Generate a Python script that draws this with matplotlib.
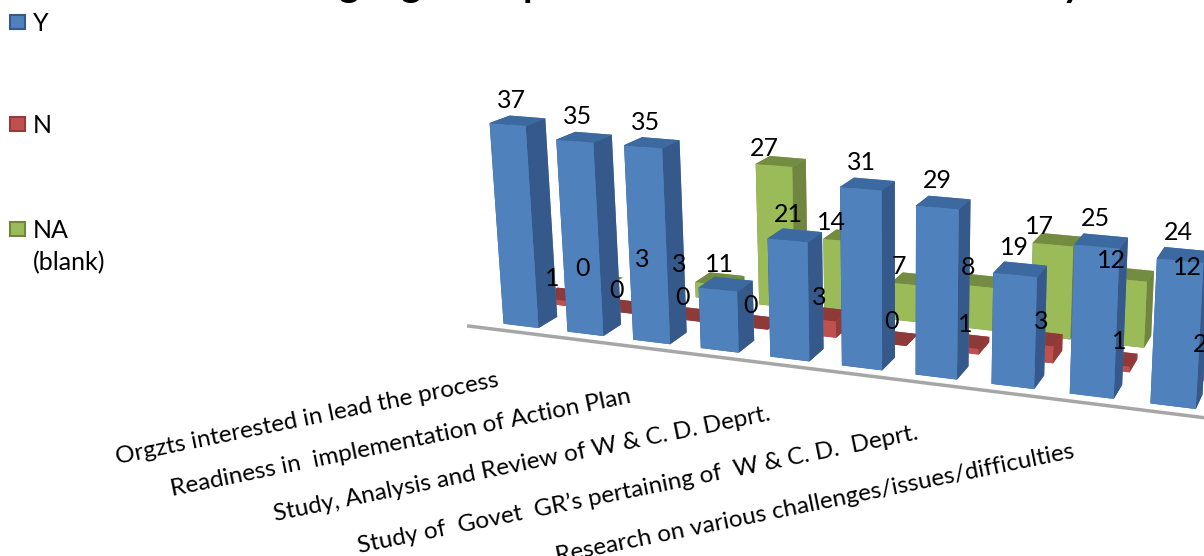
import matplotlib
matplotlib.use('Agg')
import matplotlib.pyplot as plt
import matplotlib.patches as patches
from mpl_toolkits.mplot3d import proj3d
import numpy as np

plt.rcParams['font.family'] = ['Lato', 'DejaVu Sans']

categories = [
    "Orgzts interested in lead the process",
    "",
    "Readiness in  implementation of Action Plan",
    "",
    "Study, Analysis and Review of W & C. D. Deprt.",
    "",
    "Study of  Govet  GR\u2019s pertaining of  W & C. D.  Deprt.",
    "",
    "Research on various challenges/issues/difficulties",
    "",
]
y_values = [37, 35, 35, 11, 21, 31, 29, 19, 25, 24]
n_values = [1, 0, 0, 0, 3, 0, 1, 3, 1, 2]
na_values = [0, 3, 3, 27, 14, 7, 8, 17, 12, 12]
series_names = ["Y", "N", "NA\n(blank)"]

# bottom, top, front, back, left, right
blue = ['#3a6397', '#3c6aa0', '#4f81bd', '#4f81bd', '#35598a', '#35598a']
red = ['#8e3a38', '#8e3a38', '#c0504d', '#c0504d', '#943b39', '#943b39']
green = ['#738c42', '#738c42', '#9bbb59', '#9bbb59', '#6f8540', '#6f8540']

W, H = 1204, 556
fig = plt.figure(figsize=(W / 100, H / 100), dpi=100)
ax = fig.add_axes([0.178, -0.226, 1.12, 1.58], projection='3d')
ax.set_proj_type('persp', focal_length=0.35)
ax.view_init(elev=16, azim=-71)
ax.set_box_aspect((3.0, 0.72, 0.82))

bar_w = 0.55
bar_d = 0.52
xs, ys, hs, cols = [], [], [], []
for depth, (vals, col) in enumerate([(y_values, blue), (n_values, red), (na_values, green)]):
    for i, v in enumerate(vals):
        xs.append(i)
        ys.append(depth)
        hs.append(v)
        cols.extend(col)

ax.bar3d(xs, ys, np.zeros(len(xs)), bar_w, bar_d, hs, color=cols, shade=False, zsort='average')
ax.set_xlim(-0.2, 11)
ax.set_ylim(-0.2, 2.6)
ax.set_zlim(0, 40)
ax.set_axis_off()

# floor line
ax.plot([-0.4, 11], [-0.25, -0.25], [0, 0], color='#a6a6a6', lw=2.5, clip_on=False)

for x, y, h in zip(xs, ys, hs):
    if y == 0:
        dx, dz = -0.08, 3.5
    elif y == 1:
        dx, dz = -0.2 + 0.035 * x, 3.0
    else:
        dx, dz = -0.25, 2.2
    # this one label sits well left of its bar in the original
    if y == 2 and x == 2:
        dx, dz = -0.65, 2.0
    ax.text(x + bar_w / 2 + dx, y + bar_d / 2, h + dz, str(h), fontsize=18, ha='center', va='center',
            color='black', zorder=1000)

# Text3D ignores rotation, so the category labels hang off the floor line as annotations
for i, label in enumerate(categories):
    if label:
        px, py, _ = proj3d.proj_transform(i + bar_w / 2, -0.25, 0, ax.get_proj())
        ax.annotate(label, (px, py), xycoords='data', xytext=(-15, -38), textcoords='offset pixels',
                    fontsize=17.5, rotation=11.5, rotation_mode='anchor', ha='right', va='top',
                    color='black', zorder=1000, annotation_clip=False)

# legend
for c, ly in zip((blue, red, green), (22, 124, 229)):
    fig.add_artist(patches.Rectangle((10 / W, 1 - (ly + 7) / H), 15 / W, 14 / H, transform=fig.transFigure,
                                     facecolor=c[2], edgecolor=c[5], lw=1.5))
for name, ly in zip(series_names, (22, 124, 229)):
    fig.text(33 / W, 1 - (ly - 10) / H, name, fontsize=18, va='top', ha='left', linespacing=1.45)

# only the descenders of the cut-off title reach the picture
for tx, ch in zip([349, 411, 534, 1072], "ggpy"):
    fig.text(tx / W, 1 + 3 / H, ch, fontsize=28, fontweight='bold', ha='center', va='baseline')

fig.savefig('out.png', dpi=100)
